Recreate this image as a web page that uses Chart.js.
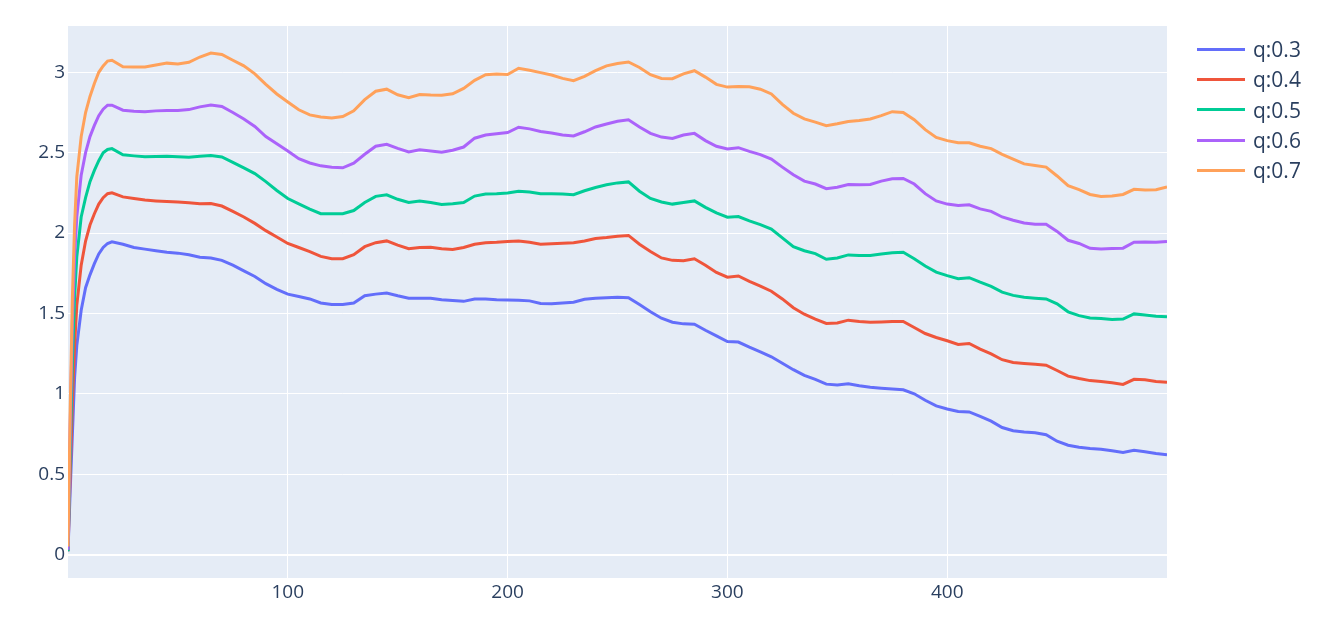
<!DOCTYPE html>
<html>
<head>
<meta charset="utf-8">
<script src="https://cdn.jsdelivr.net/npm/chart.js@4.4.0/dist/chart.umd.min.js"></script>
<style>
  body { margin: 0; background: #fff; font-family: 'Open Sans', sans-serif; }
  #wrap { position: relative; width: 1322px; height: 634px; }
  #legend { position: absolute; left: 1197px; top: 34px; }
  .item { height: 30.3px; display: flex; align-items: center; color: #2a3f5f; font-size: 21px; }
  .swatch { width: 48px; height: 3px; margin-right: 8px; }
</style>
</head>
<body>
<div id="wrap">
  <canvas id="chart" width="1322" height="634"></canvas>
  <div id="legend"></div>
</div>
<script>
// x positions of the samples
const xs = [0, 1, 2, 3, 4, 6, 8, 10, 12, 14, 16, 18, 20,
  25, 30, 35, 40, 45, 50, 55, 60, 65, 70,
  75, 80, 85, 90, 95, 100, 105, 110, 115, 120,
  125, 130, 135, 140, 145, 150, 155, 160, 165, 170,
  175, 180, 185, 190, 195, 200, 205, 210, 215, 220,
  225, 230, 235, 240, 245, 250, 255, 260, 265, 270,
  275, 280, 285, 290, 295, 300, 305, 310, 315, 320,
  325, 330, 335, 340, 345, 350, 355, 360, 365, 370,
  375, 380, 385, 390, 395, 400, 405, 410, 415, 420,
  425, 430, 435, 440, 445, 450, 455, 460, 465, 470,
  475, 480, 485, 490, 495, 500];

const labels = ['q:0.3', 'q:0.4', 'q:0.5', 'q:0.6', 'q:0.7'];
const colors = ['#636efa', '#EF553B', '#00cc96', '#ab63fa', '#FFA15A'];

const q03 = [0.02, 0.4, 0.75, 1.1, 1.3, 1.52, 1.66, 1.74, 1.81, 1.87, 1.91, 1.935, 1.945,
  1.93, 1.91, 1.90, 1.89, 1.88, 1.875, 1.865, 1.85, 1.845, 1.83,
  1.80, 1.765, 1.73, 1.685, 1.65, 1.62, 1.605, 1.59, 1.565, 1.555,
  1.555, 1.565, 1.61, 1.62, 1.627, 1.61, 1.595, 1.595, 1.595, 1.585,
  1.58, 1.575, 1.59, 1.59, 1.585, 1.583, 1.582, 1.578, 1.562, 1.56,
  1.565, 1.57, 1.588, 1.595, 1.598, 1.6, 1.598, 1.555, 1.51, 1.47,
  1.445, 1.435, 1.433, 1.395, 1.36, 1.325, 1.322, 1.29, 1.26, 1.23,
  1.19, 1.15, 1.115, 1.09, 1.06, 1.055, 1.062, 1.05, 1.04, 1.035,
  1.03, 1.025, 1.0, 0.96, 0.925, 0.905, 0.89, 0.887, 0.86, 0.83,
  0.79, 0.77, 0.762, 0.758, 0.745, 0.705, 0.68, 0.668, 0.66, 0.655,
  0.645, 0.635, 0.648, 0.64, 0.628, 0.62];

const q04 = [0.02, 0.5, 0.95, 1.3, 1.55, 1.8, 1.95, 2.05, 2.12, 2.18, 2.22, 2.245, 2.25,
  2.225, 2.215, 2.205, 2.2, 2.196, 2.193, 2.188, 2.182, 2.183, 2.168,
  2.135, 2.1, 2.06, 2.015, 1.975, 1.935, 1.91, 1.885, 1.855, 1.84,
  1.84, 1.865, 1.915, 1.94, 1.951, 1.925, 1.903, 1.91, 1.912, 1.902,
  1.897, 1.91, 1.93, 1.94, 1.942, 1.947, 1.951, 1.943, 1.93, 1.933,
  1.937, 1.94, 1.95, 1.966, 1.972, 1.98, 1.985, 1.93, 1.885, 1.845,
  1.83, 1.828, 1.84, 1.8, 1.755, 1.725, 1.733, 1.7, 1.67, 1.638,
  1.59, 1.535, 1.495, 1.465, 1.438, 1.44, 1.458, 1.45, 1.445, 1.447,
  1.449, 1.45, 1.412, 1.375, 1.35, 1.33, 1.307, 1.313, 1.278, 1.248,
  1.212, 1.195, 1.189, 1.184, 1.178, 1.145, 1.11, 1.095, 1.082, 1.076,
  1.068, 1.058, 1.09, 1.087, 1.077, 1.072];

const q05 = [0.02, 0.65, 1.2, 1.6, 1.85, 2.1, 2.22, 2.32, 2.39, 2.45, 2.5, 2.52, 2.525,
  2.487, 2.48, 2.474, 2.476, 2.477, 2.474, 2.472, 2.478, 2.482, 2.473,
  2.44, 2.405, 2.37, 2.32, 2.265, 2.215, 2.182, 2.149, 2.12, 2.12,
  2.12, 2.14, 2.19, 2.228, 2.238, 2.21, 2.19, 2.2, 2.19, 2.178,
  2.182, 2.19, 2.23, 2.243, 2.245, 2.249, 2.26, 2.255, 2.245, 2.244,
  2.243, 2.238, 2.263, 2.283, 2.3, 2.312, 2.318, 2.26, 2.215, 2.193,
  2.18, 2.19, 2.2, 2.16, 2.125, 2.099, 2.103, 2.076, 2.052, 2.025,
  1.97, 1.915, 1.89, 1.872, 1.837, 1.845, 1.864, 1.86, 1.86, 1.87,
  1.878, 1.88, 1.84, 1.795, 1.757, 1.735, 1.716, 1.722, 1.694, 1.668,
  1.632, 1.612, 1.6, 1.595, 1.59, 1.56, 1.51, 1.486, 1.472, 1.468,
  1.462, 1.465, 1.497, 1.49, 1.483, 1.48];

const q06 = [0.03, 0.8, 1.45, 1.85, 2.1, 2.36, 2.5, 2.6, 2.67, 2.73, 2.77, 2.795, 2.795,
  2.764, 2.758, 2.754, 2.76, 2.763, 2.763, 2.768, 2.785, 2.797, 2.787,
  2.75, 2.71, 2.663, 2.6, 2.555, 2.51, 2.462, 2.436, 2.418, 2.41,
  2.406, 2.435, 2.49, 2.54, 2.552, 2.527, 2.505, 2.518, 2.51, 2.503,
  2.515, 2.535, 2.59, 2.61, 2.618, 2.625, 2.658, 2.648, 2.632, 2.622,
  2.61, 2.604, 2.63, 2.66, 2.678, 2.695, 2.705, 2.66, 2.62, 2.597,
  2.588, 2.61, 2.62, 2.575, 2.54, 2.523, 2.531, 2.508, 2.488, 2.46,
  2.41, 2.362, 2.323, 2.305, 2.276, 2.285, 2.302, 2.3, 2.302, 2.323,
  2.338, 2.34, 2.305, 2.245, 2.2, 2.18, 2.172, 2.176, 2.15, 2.135,
  2.1, 2.08, 2.063, 2.055, 2.055, 2.01, 1.955, 1.935, 1.905, 1.9,
  1.904, 1.906, 1.943, 1.945, 1.942, 1.948];

const q07 = [0.05, 0.9, 1.6, 2.05, 2.35, 2.6, 2.75, 2.85, 2.93, 3.0, 3.04, 3.07, 3.075,
  3.034, 3.033, 3.033, 3.045, 3.057, 3.052, 3.062, 3.095, 3.12, 3.111,
  3.075, 3.04, 2.99, 2.925, 2.865, 2.815, 2.767, 2.735, 2.722, 2.715,
  2.725, 2.76, 2.83, 2.882, 2.895, 2.86, 2.842, 2.862, 2.858, 2.857,
  2.866, 2.9, 2.95, 2.985, 2.99, 2.986, 3.025, 3.013, 2.998, 2.983,
  2.962, 2.948, 2.975, 3.01, 3.04, 3.055, 3.064, 3.03, 2.985, 2.962,
  2.96, 2.99, 3.01, 2.97, 2.925, 2.908, 2.912, 2.91, 2.895, 2.865,
  2.8, 2.745, 2.71, 2.69, 2.668, 2.68, 2.694, 2.7, 2.71, 2.73,
  2.755, 2.75, 2.705, 2.643, 2.595, 2.575, 2.562, 2.562, 2.54, 2.525,
  2.49, 2.46, 2.43, 2.42, 2.41, 2.355, 2.295, 2.27, 2.24, 2.228,
  2.23, 2.24, 2.272, 2.268, 2.27, 2.286];

const series = [q03, q04, q05, q06, q07];

const textColor = '#2a3f5f';
const tickFont = { family: "'Open Sans', sans-serif", size: 19 };

// plot background like plotly
const plotBg = {
  id: 'plotBg',
  beforeDraw(chart) {
    const a = chart.chartArea;
    const ctx = chart.ctx;
    ctx.save();
    ctx.fillStyle = '#E5ECF6';
    ctx.fillRect(a.left, a.top, a.right - a.left, a.bottom - a.top);
    ctx.restore();
  }
};

const datasets = series.map((vals, i) => ({
  label: labels[i],
  data: vals.map((v, j) => ({ x: xs[j], y: v })),
  borderColor: colors[i],
  backgroundColor: colors[i],
  borderWidth: 3,
  pointRadius: 0,
  fill: false,
  tension: 0,
  order: series.length - i
}));

new Chart(document.getElementById('chart'), {
  type: 'line',
  data: { datasets: datasets },
  options: {
    responsive: false,
    devicePixelRatio: 1,
    animation: false,
    layout: { padding: { top: 26, right: 155, left: 0, bottom: 0 } },
    plugins: { legend: { display: false }, tooltip: { enabled: false } },
    scales: {
      x: {
        type: 'linear',
        min: 0,
        max: 500,
        afterBuildTicks: s => { s.ticks = s.ticks.filter(t => t.value > 0 && t.value < 500); },
        afterFit: s => { s.height = 56; },
        ticks: { stepSize: 100, color: textColor, font: tickFont, padding: 3, maxRotation: 0 },
        grid: { color: '#fff', lineWidth: 1, drawTicks: false },
        border: { display: false }
      },
      y: {
        min: -0.146,
        max: 3.288,
        afterFit: s => { s.width = 68; },
        ticks: {
          stepSize: 0.5,
          includeBounds: false,
          color: textColor,
          font: tickFont,
          padding: 3,
          callback: v => String(+v.toFixed(2))
        },
        grid: {
          color: '#fff',
          drawTicks: false,
          lineWidth: c => (c.tick && c.tick.value === 0 ? 2 : 1)
        },
        border: { display: false }
      }
    }
  },
  plugins: [plotBg]
});

// legend on the right
const legend = document.getElementById('legend');
labels.forEach((name, i) => {
  const item = document.createElement('div');
  item.className = 'item';
  const sw = document.createElement('span');
  sw.className = 'swatch';
  sw.style.background = colors[i];
  const txt = document.createElement('span');
  txt.textContent = name;
  item.appendChild(sw);
  item.appendChild(txt);
  legend.appendChild(item);
});
</script>
</body>
</html>
